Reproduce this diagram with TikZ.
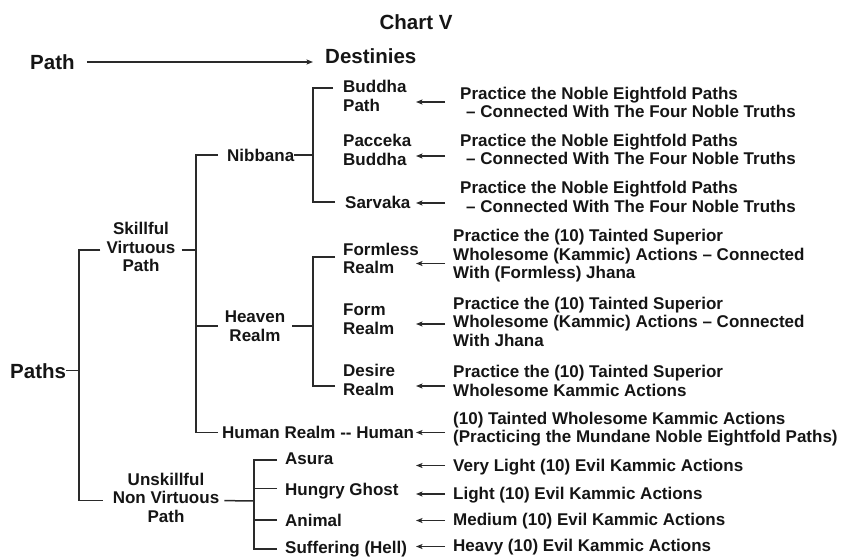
\documentclass[tikz,border=0pt]{standalone}
\usepackage{fontspec}
\setmainfont{Liberation Sans}
\usetikzlibrary{arrows.meta}
\definecolor{ink}{HTML}{151515}
\definecolor{wire}{HTML}{2A2A2A}
\begin{document}
\begin{tikzpicture}[x=1pt,y=-1pt,
  txt/.style={font=\fontsize{17}{18.5}\selectfont\bfseries, inner sep=0pt, align=left, anchor=west, text=ink},
  ctxt/.style={txt, align=center, anchor=center},
  head/.style={font=\fontsize{20.5}{24}\selectfont\bfseries, inner sep=0pt, text=ink},
  tree/.style={draw=wire, line width=1.5pt},
  arr/.style={draw=wire, line width=1.2pt, -{Stealth[length=6.5pt,width=5pt,inset=1.5pt]}}
]
\useasboundingbox (0,0) rectangle (842,556);

% headings
\node[head] (chart) at (416,21.7) {Chart V};
\node[head, anchor=west] (path) at (30,62) {Path};
\node[head, anchor=west] (dest) at (325,56) {Destinies};
\draw[arr, shorten <=12pt, shorten >=12pt] (path.east) -- (path.east -| dest.west);

% tree nodes
\node[head, anchor=west] (paths) at (10,370.7) {Paths};
\node[ctxt] (skill) at (141,247) {Skillful\\Virtuous\\Path};
\node[ctxt] (unsk) at (166,497.6) {Unskillful\\Non Virtuous\\Path};
\node[txt] (nib) at (227,155) {Nibbana};
\node[ctxt] (heav) at (255,326) {Heaven\\Realm};
\node[txt] (hum) at (222,432.5) {Human Realm -{}- Human};
\node[txt] (bud) at (343,96) {Buddha\\Path};
\node[txt] (pac) at (343,150) {Pacceka\\Buddha};
\node[txt] (sar) at (345,202) {Sarvaka};
\node[txt] (fl) at (343,258.5) {Formless\\Realm};
\node[txt] (fm) at (343,319) {Form\\Realm};
\node[txt] (des) at (343,380) {Desire\\Realm};
\node[txt] (asu) at (285,459) {Asura};
\node[txt] (hun) at (285,491) {Hungry Ghost};
\node[txt] (ani) at (285,520) {Animal};
\node[txt] (suf) at (285,548.8) {Suffering (Hell)};

% junctions
\coordinate (jA) at (79,370.7);
\coordinate (jB) at (196,250);
\coordinate (jC) at (313,155);
\coordinate (jD) at (313,326);
\coordinate (jE) at (254,501);

\draw[tree] (paths.east) -- (jA);
\draw[tree] ([xshift=-6pt,yshift=-3pt]skill.west) -| (jA);
\draw[tree] ([xshift=-10pt,yshift=-3pt]unsk.west) -| (jA);

\draw[tree] ([xshift=6pt,yshift=-3pt]skill.east) -- (jB);
\draw[tree] ([xshift=-9pt]nib.west) -| (jB);
\draw[tree] ([xshift=-7pt]heav.west) -| (jB);
\draw[tree] ([xshift=-4pt]hum.west) -| (jB);

\draw[tree] (nib.east) -- (jC);
\draw[tree] ([xshift=-10pt,yshift=8pt]bud.west) -| (jC);
\draw[tree] ([xshift=-10pt]sar.west) -| (jC);

\draw[tree] ([xshift=7pt]heav.east) -- (jD);
\draw[tree] ([xshift=-8pt,yshift=1.5pt]fl.west) -| (jD);
\draw[tree] ([xshift=-8pt,yshift=-6pt]des.west) -| (jD);

\draw[tree] ([xshift=5pt,yshift=-3pt]unsk.east) -- (jE);
\draw[tree] ([xshift=-8pt,yshift=-1pt]asu.west) -| (jE);
\draw[tree] ([xshift=-8pt,yshift=2.5pt]hun.west) -| (jE);
\draw[tree] ([xshift=-8pt]ani.west) -| (jE);
\draw[tree] ([xshift=-8pt]suf.west) -| (jE);

% right-hand texts
\node[txt] (r1) at (460,102.4) {Practice the Noble Eightfold Paths\\\hspace*{6pt}– Connected With The Four Noble Truths};
\node[txt] (r2) at (460,149.4) {Practice the Noble Eightfold Paths\\\hspace*{6pt}– Connected With The Four Noble Truths};
\node[txt] (r3) at (460,197) {Practice the Noble Eightfold Paths\\\hspace*{6pt}– Connected With The Four Noble Truths};
\node[txt] (r4) at (453,255.9) {Practice the (10) Tainted Superior\\Wholesome (Kammic) Actions – Connected\\With (Formless) Jhana};
\node[txt] (r5) at (453,321.6) {Practice the (10) Tainted Superior\\Wholesome (Kammic) Actions – Connected\\With Jhana};
\node[txt] (r6) at (453,380.8) {Practice the (10) Tainted Superior\\Wholesome Kammic Actions};
\node[txt] (r7) at (453,429.2) {(10) Tainted Wholesome Kammic Actions\\(Practicing the Mundane Noble Eightfold Paths)};
\node[txt] (r8) at (453,466.7) {Very Light (10) Evil Kammic Actions};
\node[txt] (r9) at (453,495) {Light (10) Evil Kammic Actions};
\node[txt] (r10) at (453,520.7) {Medium (10) Evil Kammic Actions};
\node[txt] (r11) at (453,546.8) {Heavy (10) Evil Kammic Actions};

% arrow heads (free ends)
\coordinate (a1) at (416,102);
\coordinate (a2) at (416,156);
\coordinate (a3) at (416,203);
\coordinate (a4) at (416,263.5);
\coordinate (a5) at (416,324);
\coordinate (a6) at (416,386);
\coordinate (a7) at (416,432.5);
\coordinate (a8) at (416,465.5);
\coordinate (a9) at (416,494);
\coordinate (a10) at (416,520.5);
\coordinate (a11) at (416,546.5);

\draw[arr, shorten <=15pt] (r1.west |- a1) -- (a1);
\draw[arr, shorten <=15pt] (r2.west |- a2) -- (a2);
\draw[arr, shorten <=15pt] (r3.west |- a3) -- (a3);
\draw[arr, shorten <=8pt] (r4.west |- a4) -- (a4);
\draw[arr, shorten <=8pt] (r5.west |- a5) -- (a5);
\draw[arr, shorten <=8pt] (r6.west |- a6) -- (a6);
\draw[arr, shorten <=8pt] (r7.west |- a7) -- (a7);
\draw[arr, shorten <=8pt] (r8.west |- a8) -- (a8);
\draw[arr, shorten <=8pt] (r9.west |- a9) -- (a9);
\draw[arr, shorten <=8pt] (r10.west |- a10) -- (a10);
\draw[arr, shorten <=8pt] (r11.west |- a11) -- (a11);
\end{tikzpicture}
\end{document}
